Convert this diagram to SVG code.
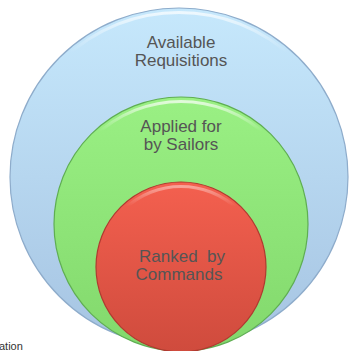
<svg xmlns="http://www.w3.org/2000/svg" width="350" height="351" viewBox="0 0 350 351">
<defs>
<linearGradient id="gBlue" x1="0" y1="0" x2="0" y2="1">
<stop offset="0" stop-color="#c6e8fc"/>
<stop offset="1" stop-color="#a6c4e2"/>
</linearGradient>
<linearGradient id="gGreen" x1="0" y1="0" x2="0" y2="1">
<stop offset="0" stop-color="#9af084"/>
<stop offset="1" stop-color="#82d86c"/>
</linearGradient>
<linearGradient id="gRed" x1="0" y1="0" x2="0" y2="1">
<stop offset="0" stop-color="#f4604f"/>
<stop offset="1" stop-color="#cf4b3d"/>
</linearGradient>
<linearGradient id="hl" x1="0" y1="0" x2="0" y2="1">
<stop offset="0" stop-color="#ffffff" stop-opacity="0.7"/>
<stop offset="0.12" stop-color="#ffffff" stop-opacity="0"/>
</linearGradient>
</defs>
<style>
.lbl{font-family:"Liberation Sans",Arial,sans-serif;font-size:17px;fill:#555555;text-anchor:middle}
</style>
<g id="outer">
<circle cx="179" cy="177" r="169" fill="url(#gBlue)" stroke="#8eaccb" stroke-width="1.2"/>
<circle cx="179" cy="178.5" r="166" fill="none" stroke="url(#hl)" stroke-width="3"/>
<text class="lbl" x="181" y="48">Available</text>
<text class="lbl" x="181" y="66">Requisitions</text>
</g>
<g id="middle">
<circle cx="181" cy="224" r="127" fill="url(#gGreen)" stroke="#5fae52" stroke-width="1.2"/>
<circle cx="181" cy="225.5" r="124" fill="none" stroke="url(#hl)" stroke-width="3"/>
<text class="lbl" x="181" y="132">Applied for</text>
<text class="lbl" x="181" y="150">by Sailors</text>
</g>
<g id="inner">
<circle cx="181" cy="267" r="85" fill="url(#gRed)" stroke="#b03a30" stroke-width="1.2"/>
<circle cx="181" cy="268.5" r="82" fill="none" stroke="url(#hl)" stroke-width="3" opacity="0.6"/>
<text class="lbl" x="182" y="262" xml:space="preserve">Ranked  by</text>
<text class="lbl" x="179" y="280">Commands</text>
</g>
<g id="connectors"/>
<text x="-1" y="350" style="font-family:'Liberation Sans',Arial,sans-serif;font-size:11px;fill:#333">ation</text>
</svg>
